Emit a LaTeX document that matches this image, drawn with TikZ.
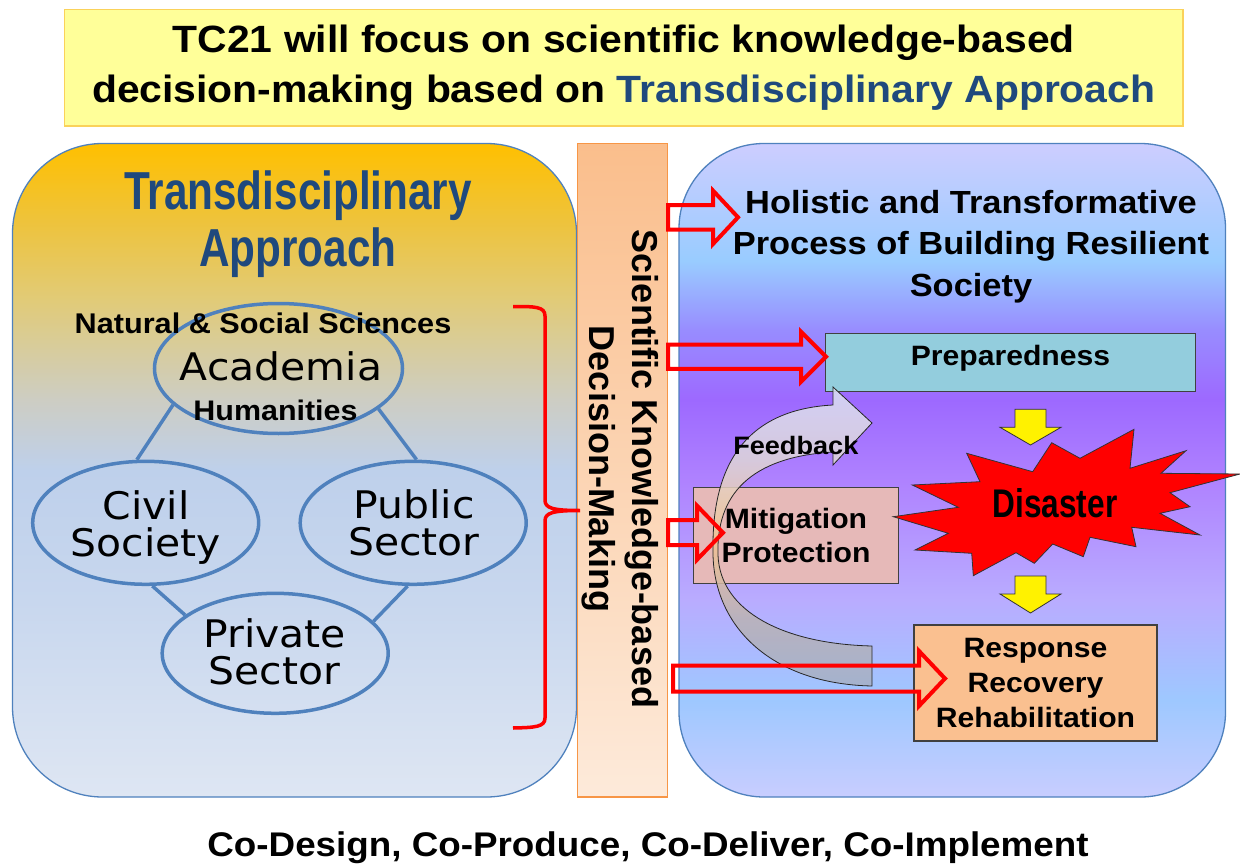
\documentclass[tikz,border=0pt]{standalone}
\usepackage{fontspec}
\setmainfont{Liberation Sans}[FakeStretch=1.076]
\newfontfamily\condfont{Liberation Sans}[FakeStretch=0.79]
\newfontfamily\rotfont{Liberation Sans}
\newfontfamily\ellfont{DejaVu Sans}[FakeStretch=1.076]
\usetikzlibrary{shapes.geometric}

\definecolor{tblue}{RGB}{31,73,125}
\definecolor{bordblue}{RGB}{79,129,189}
\definecolor{titlefill}{RGB}{255,255,153}
\definecolor{titledraw}{RGB}{250,210,90}
\definecolor{prepfill}{RGB}{147,205,221}
\definecolor{mitfill}{RGB}{230,185,184}
\definecolor{respfill}{RGB}{250,192,144}
\definecolor{bartop}{RGB}{250,190,140}
\definecolor{barbot}{RGB}{253,234,218}
\definecolor{bardraw}{RGB}{247,150,70}
\definecolor{lb0}{RGB}{222,230,243}
\definecolor{lb1}{RGB}{200,215,238}
\definecolor{lb2}{RGB}{190,208,235}
\definecolor{lb3}{RGB}{205,205,195}
\definecolor{lb4}{RGB}{225,203,120}
\definecolor{lb45}{RGB}{238,195,60}
\definecolor{lb5}{RGB}{255,192,0}
\definecolor{rb0}{RGB}{200,205,255}
\definecolor{rb1}{RGB}{158,200,255}
\definecolor{rb2}{RGB}{185,172,255}
\definecolor{rb3}{RGB}{175,130,255}
\definecolor{rb4}{RGB}{157,105,255}
\definecolor{rb45}{RGB}{152,140,255}
\definecolor{rb5}{RGB}{153,204,255}
\definecolor{rb6}{RGB}{205,205,255}
\definecolor{fb0}{RGB}{165,176,198}
\definecolor{fb1}{RGB}{185,178,180}
\definecolor{fb2}{RGB}{242,195,145}
\definecolor{fb3}{RGB}{222,215,215}
\definecolor{fb4}{RGB}{220,226,245}

\pgfdeclareverticalshading{leftbg}{100bp}{color(0bp)=(lb0); color(25bp)=(lb0); color(40bp)=(lb1); color(50bp)=(lb2); color(55.4bp)=(lb3); color(63bp)=(lb4); color(69bp)=(lb45); color(75bp)=(lb5); color(100bp)=(lb5)}
\pgfdeclareverticalshading{rightbg}{100bp}{color(0bp)=(rb0); color(25bp)=(rb0); color(32.4bp)=(rb1); color(40.1bp)=(rb2); color(49.2bp)=(rb3); color(55.4bp)=(rb4); color(60.7bp)=(rb45); color(66bp)=(rb5); color(75bp)=(rb6); color(100bp)=(rb6)}
\pgfdeclareverticalshading{fbsh}{100bp}{color(0bp)=(fb0); color(25bp)=(fb0); color(36bp)=(fb1); color(49.4bp)=(fb2); color(62.8bp)=(fb3); color(75bp)=(fb4); color(100bp)=(fb4)}

\newcommand\blockarrow[7]{%
  \draw[#1] (#2,#5-#6) -- (#3,#5-#6) -- (#3,#5-#7) -- (#4,#5) -- (#3,#5+#7) -- (#3,#5+#6) -- (#2,#5+#6) -- cycle;}
\newcommand\downblock[8]{%
  \draw[#1] (#2,#6) -- (#3,#6) -- (#3,#7) -- (#5,#7) -- ({(#4+#5)/2},#8) -- (#4,#7) -- (#2,#7) -- cycle;}

\begin{document}
\begin{tikzpicture}[x=1pt,y=-1pt,
  ell/.style={ellipse, draw=bordblue, line width=3.5pt, inner sep=0pt},
  ellline/.style={draw=bordblue, line width=3.5pt},
  elltext/.style={font=\ellfont\fontsize{38}{36.5}\selectfont, align=center, inner sep=0pt},
  btext/.style={font=\bfseries\fontsize{#1}{#1}\selectfont, inner sep=0pt},
  box/.style={draw=black!75, line width=1.2pt, inner sep=0pt},
  redarr/.style={draw=red, line width=4pt, line join=miter},
  yelarr/.style={fill=yellow, draw=black!80, line width=0.8pt},
]
\useasboundingbox (0,0) rectangle (1240,864);
\fill[white] (0,0) rectangle (1240,864);

% title
\node[fill=titlefill, draw=titledraw, line width=1.5pt, inner sep=0pt,
  minimum width=1118.7pt, minimum height=116.7pt,
  font=\bfseries\fontsize{38}{50}\selectfont, align=center] (title) at (623.7,67.7)
  {TC21 will focus on scientific knowledge-based\\decision-making based on \textcolor{tblue}{Transdisciplinary Approach}};

% panels
\path[shading=leftbg, draw=bordblue, line width=1.3pt, rounded corners=90pt] (12.5,143.5) rectangle (576.5,797);
\path[shading=rightbg, draw=bordblue, line width=1.3pt, rounded corners=85pt] (679,143.5) rectangle (1225.5,797);
\path[top color=bartop, bottom color=barbot, draw=bardraw, line width=1.2pt] (577.5,143.5) rectangle (667.5,797);

% left panel
\node[font=\condfont\bfseries\fontsize{53.5}{56.7}\selectfont, text=tblue, align=center, inner sep=0pt] (trans) at (298,224.5) {Transdisciplinary\\Approach};

\node[ell, minimum width=248pt, minimum height=130pt] (aca) at (278.5,368.5) {};
\node[ell, minimum width=226pt, minimum height=123pt] (civ) at (145.7,522.8) {};
\node[ell, minimum width=226pt, minimum height=123pt] (pub) at (413.2,522.8) {};
\node[ell, minimum width=226pt, minimum height=120pt] (pri) at (275.2,653.3) {};
\draw[ellline] (aca.199.5) -- (civ.98.6);
\draw[ellline] (aca.338.8) -- (pub.87);
\draw[ellline] (civ.276.6) -- (pri.157.4);
\draw[ellline] (pub.265.2) -- (pri.18.5);

\node[elltext, anchor=base] (acat) at (281,380) {Academia};
\node[elltext] (civt) at (146,527.3) {Civil\\Society};
\node[elltext] (pubt) at (414,522.7) {Public\\Sector};
\node[elltext] (prit) at (274.6,651.7) {Private\\Sector};
\node[btext=28.5, anchor=base] (nat) at (263,333.3) {Natural \& Social Sciences};
\node[btext=28.3, anchor=base] (hum) at (275.5,420) {Humanities};

% brace
\draw[red, line width=3.5pt] (513,306.5) .. controls (535,306.5) and (545,306.5) .. (545,316) -- (545,500)
  .. controls (545,508) and (552,510.5) .. (580,510.5) .. controls (552,510.5) and (545,513) .. (545,521)
  -- (545,718) .. controls (545,727) and (535,727.5) .. (513,728);

% bar text
\node[font=\rotfont\bfseries\fontsize{36}{42.7}\selectfont, align=center, inner sep=0pt, rotate=-90] (sci) at (620,469)
  {Scientific Knowledge-based\\Decision-Making};

% right panel
\node[font=\bfseries\fontsize{32}{41.5}\selectfont, align=center, inner sep=0pt] (hol) at (971,246.7)
  {Holistic and Transformative\\Process of Building Resilient\\Society};

\node[box, fill=prepfill, minimum width=369.5pt, minimum height=58.4pt,
  font=\bfseries\fontsize{28}{28}\selectfont, text height=20.4pt, text depth=15.4pt] (prep) at (1010.5,362.5) {Preparedness};
\node[box, fill=mitfill, minimum width=205.3pt, minimum height=96pt] (mitbox) at (796,535.3) {};
\node[box, fill=respfill, minimum width=243pt, minimum height=116pt,
  font=\bfseries\fontsize{28}{34.7}\selectfont, align=center] (resp) at (1035.5,683)
  {Response\\Recovery\\Rehabilitation};

% yellow arrows
\downblock{yelarr}{1015}{1046}{1000}{1061}{409.3}{427.3}{445}
\downblock{yelarr}{1015}{1046}{1000}{1061}{576}{594}{613}

% disaster star
\draw[fill=red, draw=black!80, line width=0.8pt, line join=miter]
  (893.3,516.7) -- (958.3,507.3) -- (912.3,485) -- (980,481.7) -- (966.7,453.3) -- (1032.7,471.7)
  -- (1051.7,442.7) -- (1080,458.3) -- (1134,429.3) -- (1130,468.3) -- (1186,450.7) -- (1161,473.3)
  -- (1240,474) -- (1170,492.7) -- (1190,506.7) -- (1160,513.3) -- (1200,535) -- (1131.7,527.3)
  -- (1136,546.7) -- (1090,537.3) -- (1083.3,556.7) -- (1052.7,544) -- (1034.3,563.3) -- (1016,552.7)
  -- (973.3,575.7) -- (971.7,553.3) -- (915,550) -- (948.3,533.3) -- cycle;
\node[font=\condfont\bfseries\fontsize{40}{40}\selectfont, inner sep=0pt, anchor=base] (dis) at (1055,517) {Disaster};

% feedback arrow
\path[shading=fbsh, fill opacity=0.85, draw=black!85, draw opacity=1, line width=0.8pt]
  (833,405) .. controls (738,410) and (712,475) .. (713,550)
  .. controls (712,625) and (770,684) .. (872,686) -- (872,646)
  .. controls (785,644) and (720,612) .. (718,555)
  .. controls (716,495) and (750,457) .. (833,452)
  -- (833,465) -- (872,423) -- (833,387) -- cycle;
\node[btext=25.2, anchor=base] (fb) at (795.8,454) {Feedback};
\node[font=\bfseries\fontsize{28}{33.4}\selectfont, align=center, inner sep=0pt] (mit) at (mitbox.center) {Mitigation\\Protection};

% red block arrows
\blockarrow{redarr}{668}{713}{738}{217.3}{12.2}{26.7}
\blockarrow{redarr}{668}{801}{826}{356.7}{12.2}{25}
\blockarrow{redarr}{668}{697}{723}{532.7}{12.5}{27}
\blockarrow{redarr}{673}{919}{945}{678.5}{13}{27.5}

% bottom text
\node[btext=34.2, anchor=base] (co) at (648,856) {Co-Design, Co-Produce, Co-Deliver, Co-Implement};
\end{tikzpicture}
\end{document}
